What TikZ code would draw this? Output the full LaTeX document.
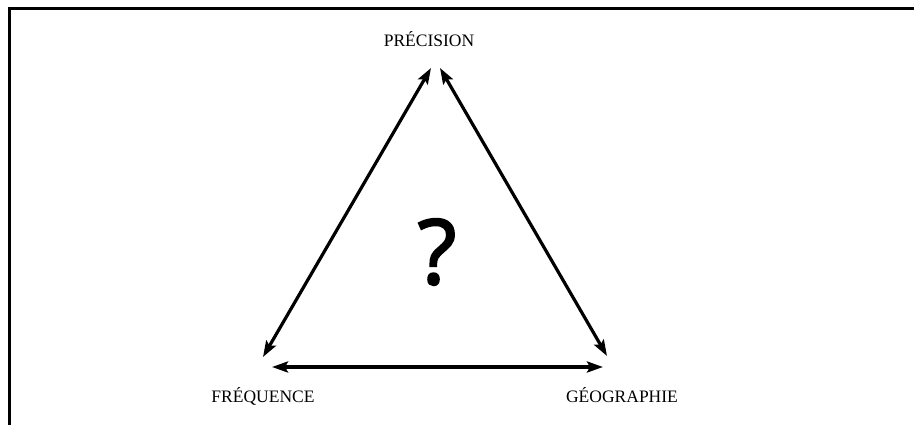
\documentclass[tikz,border=0pt]{standalone}
\usepackage{fontspec}
\setmainfont{Liberation Serif}
\newfontfamily\qfont[FakeBold=2.2]{Open Sans}
\usetikzlibrary{arrows.meta}
\begin{document}
\begin{tikzpicture}[x=1pt,y=-1pt,
  frame/.style={line width=3pt},
  dbl/.style={line width=3.2pt,{Stealth[length=16pt,width=11pt,inset=3pt]}-{Stealth[length=16pt,width=11pt,inset=3pt]}},
  lbl/.style={font=\fontsize{17.5}{20}\selectfont,inner sep=0pt,anchor=base}]
\useasboundingbox (0,0) rectangle (914,425);
% frame
\coordinate (fa) at (9,425);
\coordinate (fb) at (9,9);
\coordinate (fc) at (914,9);
\draw[frame] (fa) -- (fb) -- (fc);
% arrow ends
\coordinate (p1) at (431,68);
\coordinate (f1) at (263,357);
\coordinate (p2) at (440,68);
\coordinate (g1) at (607,356);
\coordinate (f2) at (272,367);
\coordinate (g2) at (603,367);
\draw[dbl] (p1) -- (f1);
\draw[dbl] (p2) -- (g1);
\draw[dbl] (f2) -- (g2);
% labels
\node[lbl] (prec) at (429,47) {PRÉCISION};
\node[lbl] (freq) at (263,402) {FRÉQUENCE};
\node[lbl] (geo) at (622,402) {GÉOGRAPHIE};
\node[font=\qfont\fontsize{90}{100}\selectfont,inner sep=0pt] (q) at (437,252) {?};
\end{tikzpicture}
\end{document}
